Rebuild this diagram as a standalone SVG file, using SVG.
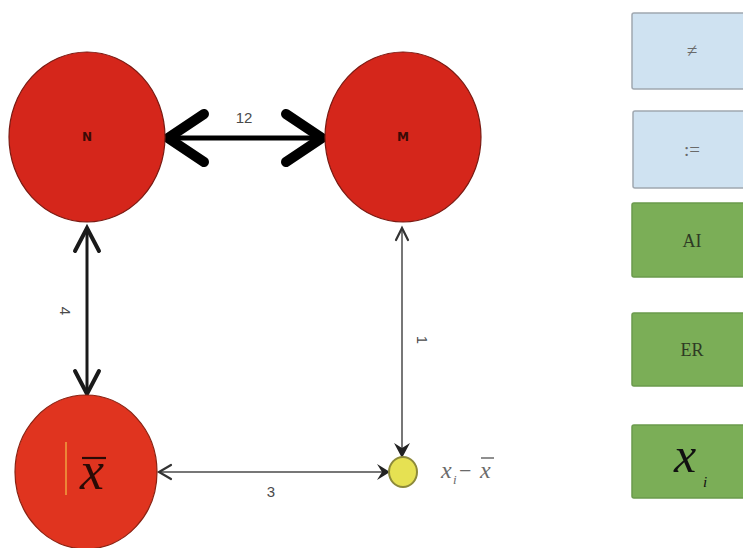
<svg xmlns="http://www.w3.org/2000/svg" width="743" height="548" viewBox="0 0 743 548">
<style>
.red{fill:#d5261b;stroke:#7a1a12;stroke-width:1.2}
.red2{fill:#e0341f;stroke:#8a2212;stroke-width:1.2}
.yel{fill:#e6e152;stroke:#8d8a3a;stroke-width:2}
.blue{fill:#cfe2f1;stroke:#a0a8b0;stroke-width:1.5}
.green{fill:#7bae57;stroke:#6b9a4c;stroke-width:1.5}
.lbl{font-family:"Liberation Sans",Arial,sans-serif;fill:#4a4a4a;font-size:15px;text-anchor:middle}
.nl{font-family:"DejaVu Sans",sans-serif;font-weight:bold;fill:#3a0a06;font-size:12px;text-anchor:middle}
.serif{font-family:"Liberation Serif","Times New Roman",serif}
.bt{fill:#2e3a24;font-size:18px;text-anchor:middle}
.bb{fill:#6a6a6a;font-size:19px;text-anchor:middle}
.thick{fill:none;stroke:#000;stroke-width:5}
.head{fill:none;stroke:#000;stroke-width:10;stroke-linecap:round;stroke-linejoin:miter}
.mid{fill:none;stroke:#1a1a1a;stroke-width:3}
.midh{fill:none;stroke:#1a1a1a;stroke-width:4;stroke-linecap:round}
.thin{fill:none;stroke:#777;stroke-width:2}
.thinh{fill:none;stroke:#333;stroke-width:2.2;stroke-linecap:round}
.gi{font-family:"Liberation Serif","Times New Roman",serif;font-style:italic;fill:#6a6a6a}
</style>
<rect width="743" height="548" fill="#fff"/>
<g id="connectors">
  <line class="thick" x1="172" y1="138" x2="318" y2="138"/>
  <path class="head" d="M204,114 L168,138 L204,162"/>
  <path class="head" d="M286,114 L322,138 L286,162"/>
  <text class="lbl" x="244" y="123">12</text>
  <line class="mid" x1="87" y1="228" x2="87" y2="394"/>
  <path class="midh" d="M75,251 L87,228 L99,251"/>
  <path class="midh" d="M75,371 L87,394 L99,371"/>
  <text class="lbl" x="0" y="0" transform="translate(60,311) rotate(90)">4</text>
  <line class="thin" x1="402" y1="229" x2="402" y2="452"/>
  <path class="thinh" d="M396,240 L402,228 L408,240"/>
  <path d="M394,443 L402,448 L410,443 L402,458 Z" fill="#222"/>
  <text class="lbl" x="0" y="0" transform="translate(417,340) rotate(90)">1</text>
  <line class="thin" x1="160" y1="472" x2="384" y2="472"/>
  <path class="thinh" d="M171,465 L159,472 L171,479"/>
  <path d="M377,464 L382,472 L377,480 L390,472 Z" fill="#222"/>
  <text class="lbl" x="271" y="497">3</text>
</g>
<g id="node-N">
  <ellipse class="red" cx="87" cy="137" rx="78" ry="85"/>
  <text class="nl" x="87" y="141">N</text>
</g>
<g id="node-M">
  <ellipse class="red" cx="403" cy="137" rx="78" ry="85"/>
  <text class="nl" x="403" y="141">M</text>
</g>
<g id="node-xbar">
  <ellipse class="red2" cx="86" cy="472" rx="71" ry="77"/>
  <line x1="66" y1="442" x2="66" y2="495" stroke="#f0a040" stroke-width="1.5"/>
  <text class="serif" x="92" y="489" font-size="54" font-style="italic" fill="#2a0a05" text-anchor="middle">x</text>
  <line x1="82" y1="458" x2="106" y2="458" stroke="#2a0a05" stroke-width="2.2"/>
</g>
<g id="node-diff">
  <ellipse class="yel" cx="403" cy="472" rx="14" ry="15"/>
  <text class="gi" x="441" y="478" font-size="24">x</text>
  <text class="gi" x="453" y="484" font-size="13">i</text>
  <text class="serif" x="459" y="478" font-size="22" fill="#6a6a6a">−</text>
  <text class="gi" x="480" y="478" font-size="24">x</text>
  <line x1="481" y1="458" x2="494" y2="458" stroke="#6a6a6a" stroke-width="1.5"/>
</g>
<g id="box-neq">
  <rect class="blue" x="632" y="13" width="125" height="76" rx="2"/>
  <text class="serif bb" x="692" y="57">≠</text>
</g>
<g id="box-assign">
  <rect class="blue" x="633" y="111" width="125" height="77" rx="2"/>
  <text class="serif bb" x="692" y="156">:=</text>
</g>
<g id="box-AI">
  <rect class="green" x="632" y="203" width="125" height="74" rx="2"/>
  <text class="serif bt" x="692" y="247">AI</text>
</g>
<g id="box-ER">
  <rect class="green" x="632" y="313" width="125" height="73" rx="2"/>
  <text class="serif bt" x="692" y="356">ER</text>
</g>
<g id="box-xi">
  <rect class="green" x="632" y="425" width="125" height="73" rx="2"/>
  <text class="serif" x="685" y="472" font-size="50" font-style="italic" fill="#111" text-anchor="middle">x</text>
  <text class="serif" x="703" y="487" font-size="15" font-style="italic" fill="#111">i</text>
</g>
</svg>
